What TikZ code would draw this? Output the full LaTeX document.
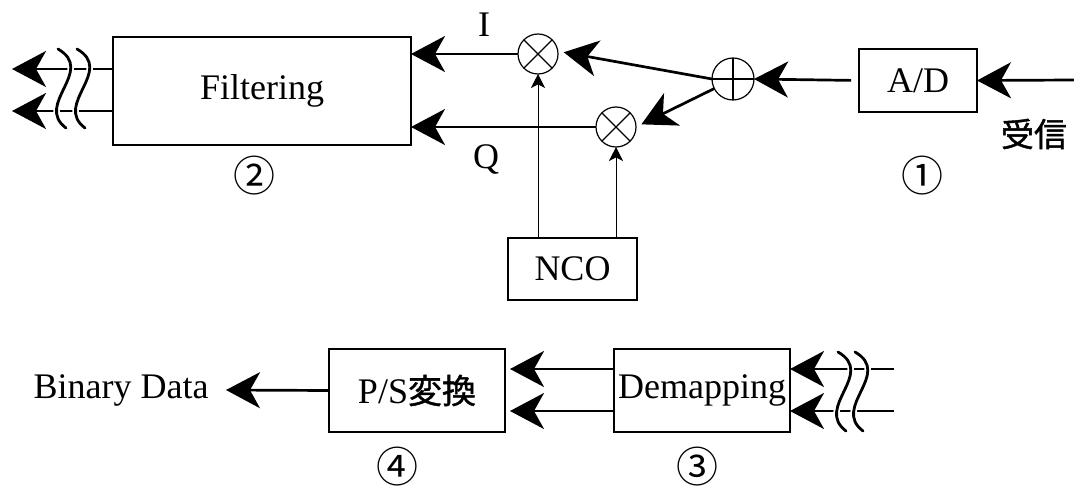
\documentclass[tikz,border=0pt]{standalone}
\usepackage{fontspec}
\setmainfont{Liberation Serif}
\newfontfamily\jpfont{Noto Sans CJK JP}
\newfontfamily\jpheavy{Noto Sans CJK JP}[FakeBold=1.2]
\usetikzlibrary{arrows.meta}

\begin{document}
\begin{tikzpicture}[x=0.5pt,y=-0.5pt,
  box/.style={draw, line width=0.75pt, inner sep=0pt, outer sep=0pt,
    font=\fontsize{18}{20}\selectfont},
  mixer/.style={draw, circle, line width=0.6pt, minimum size=20pt,
    inner sep=0pt, outer sep=0pt},
  sig/.style={line width=1.35pt, -{Stealth[length=17pt,width=18pt,inset=5pt]}},
  lo/.style={line width=0.5pt, -{Stealth[length=7pt,width=7pt,inset=1.8pt]}},
  lbl/.style={font=\fontsize{18}{20}\selectfont, inner sep=0pt},
  num/.style={font=\jpfont\fontsize{21}{23}\selectfont, inner sep=0pt},
  brkline/.style={line width=1.4pt, line cap=round,
    preaction={draw=white, line width=3.2pt}},
  brk/.pic={\draw[brkline] (0,0) .. controls (38,22) and (-24,55) .. (8,79);}
]
\useasboundingbox (0,0) rectangle (1074,486);

% blocks
\node[box, minimum width=149pt, minimum height=54pt] (filt) at (262,91) {Filtering};
\node[mixer] (mulI) at (538,54) {};
\node[mixer] (mulQ) at (616,127) {};
\node[mixer, minimum size=21pt] (add) at (733,79) {};
\node[box, minimum width=59pt, minimum height=31.5pt] (ad) at (918,80.5) {A/D};
\node[box, minimum width=64.5pt, minimum height=31pt] (nco) at (572.5,269) {NCO};
\node[box, minimum width=88pt, minimum height=41.5pt] (ps) at (417,390.5)
  {P/S{\jpheavy\fontsize{17}{19}\selectfont 変換}};
\node[box, minimum width=88pt, minimum height=41.5pt] (dm) at (702,390.5) {Demapping};

% mixer / adder marks
\draw[line width=0.6pt] (mulI.north west) -- (mulI.south east)
                        (mulI.north east) -- (mulI.south west);
\draw[line width=0.6pt] (mulQ.north west) -- (mulQ.south east)
                        (mulQ.north east) -- (mulQ.south west);
\draw[line width=0.6pt] (add.north) -- (add.south) (add.west) -- (add.east);

% labels
\node[lbl] (lI) at (484,25) {I};
\node[lbl] (lQ) at (486,160) {Q};
\node[font=\jpheavy\fontsize{16.5}{18}\selectfont, inner sep=0pt] (rx) at (1034,134) {受信};
\node[num] (n1) at (922,176) {①};
\node[num] (n2) at (254,176) {②};
\node[num] (n3) at (697,467) {③};
\node[num] (n4) at (397,467) {④};
\node[lbl, anchor=east, inner xsep=8.5pt] (bin) at (226,390) {Binary Data};

% free ends
\coordinate (oI) at (12,69);
\coordinate (oQ) at (12,111);
\coordinate (rin) at (1074,80);
\coordinate (dI) at (894,369);
\coordinate (dQ) at (894,411);

% receive chain
\draw[sig] (rin) -- (ad.east);
\draw[sig, shorten <=4pt] (ad.west) -- (add.east);
\draw[sig, shorten >=3pt] (add.west) -- (mulI.8);
\draw[sig, shorten >=3pt] (add.207) -- (mulQ.east);
\draw[sig] (mulI.west) -- (mulI.west -| filt.east);
\draw[sig] (mulQ.west) -- (mulQ.west -| filt.east);
\draw[lo] (mulI |- nco.north) -- (mulI.south);
\draw[lo] (mulQ |- nco.north) -- (mulQ.south);
\draw[sig] (oI -| filt.west) -- (oI);
\draw[sig] (oQ -| filt.west) -- (oQ);

% back end
\draw[sig] (dI) -- (dI -| dm.east);
\draw[sig] (dQ) -- (dQ -| dm.east);
\draw[sig, shorten >=2.5pt] (dI -| dm.west) -- (dI -| ps.east);
\draw[sig, shorten >=2.5pt] (dQ -| dm.west) -- (dQ -| ps.east);
\draw[sig] (ps.west) -- (bin.east);

% line breaks
\pic at (58,49) {brk};
\pic at (77,49) {brk};
\pic at (838,352) {brk};
\pic at (855,352) {brk};
\end{tikzpicture}
\end{document}
